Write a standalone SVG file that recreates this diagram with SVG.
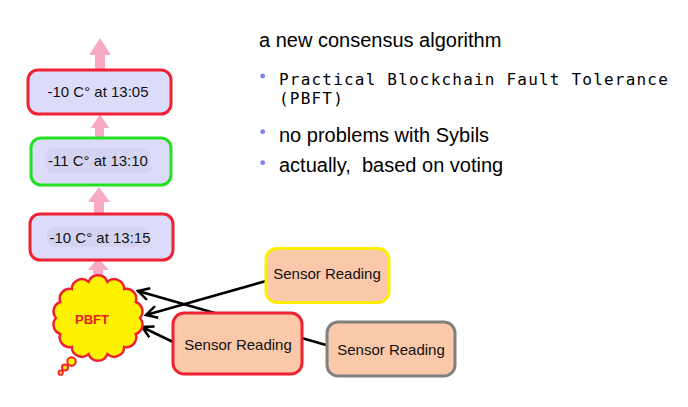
<svg xmlns="http://www.w3.org/2000/svg" width="688" height="407" viewBox="0 0 688 407">
  <style>
    .box { fill: #dcdcfa; stroke-width: 3; }
    .boxtxt { font-family: "Liberation Sans", Arial, sans-serif; font-size: 15px; fill: #111; text-anchor: middle; }
    .sensor { fill: #fbc9a9; stroke-width: 3; }
    .sensortxt { font-family: "Liberation Sans", Arial, sans-serif; font-size: 15px; fill: #111; text-anchor: middle; }
    .uparrow { fill: #f7a9c6; }
    .body { font-family: "Liberation Sans", Arial, sans-serif; font-size: 20px; fill: #000; }
    .mono { font-family: "DejaVu Sans Mono", "Liberation Mono", monospace; font-size: 16px; letter-spacing: 1.2px; fill: #000; }
    .bullet { fill: #8080ee; }
    .link { stroke: #000; stroke-width: 2.5; fill: none; marker-end: url(#open); }
  </style>
  <defs>
    <marker id="open" viewBox="0 0 14 14" refX="12" refY="7" markerWidth="14" markerHeight="14" markerUnits="userSpaceOnUse" orient="auto">
      <path d="M1,1 L12,7 L1,13" fill="none" stroke="#000" stroke-width="2.5"/>
    </marker>
  </defs>

  <rect width="688" height="407" fill="#fff"/>

  <!-- pink block-chain arrows -->
  <g id="chain-arrows">
    <path class="uparrow" d="M95,70 L95,55 L89,55 L100,38 L111,55 L105,55 L105,70 Z"/>
    <path class="uparrow" d="M95,139 L95,128 L91,128 L100,114 L109,128 L104,128 L104,139 Z"/>
    <path class="uparrow" d="M94,215 L94,202 L88,202 L99,187 L110,202 L104,202 L104,215 Z"/>
    <path class="uparrow" d="M93,282 L93,270 L88,270 L98,258 L109,270 L103,270 L103,282 Z"/>
  </g>

  <!-- block 13:05 -->
  <g id="block-1305">
    <rect class="box" x="28" y="70" width="143" height="44" rx="10" stroke="#ee2233"/>
    <text class="boxtxt" x="98" y="97">-10 C° at 13:05</text>
  </g>

  <!-- block 13:10 -->
  <g id="block-1310">
    <rect class="box" x="31" y="138" width="140" height="47" rx="10" stroke="#22e022"/>
    <rect x="46" y="148" width="105" height="26" rx="8" fill="#d4d4f2"/>
    <text class="boxtxt" x="98" y="166">-11 C° at 13:10</text>
  </g>

  <!-- block 13:15 -->
  <g id="block-1315">
    <rect class="box" x="30" y="214" width="143" height="46" rx="10" stroke="#ee2233"/>
    <rect x="47" y="227" width="103" height="20" rx="8" fill="#d4d4f2"/>
    <text class="boxtxt" x="100" y="243">-10 C° at 13:15</text>
  </g>

  <!-- connectors -->
  <g id="connectors">
    <line class="link" x1="326" y1="345" x2="138" y2="291"/>
    <line class="link" x1="266" y1="281" x2="146" y2="315"/>
    <line class="link" x1="173" y1="342" x2="142" y2="327"/>
  </g>

  <!-- PBFT thought cloud -->
  <g id="pbft">
    <path d="M140,318 A10,10 0 0 0 135.8,302 A10,10 0 0 0 124.2,289.1 A10,10 0 0 0 107.4,281.9 A10,10 0 0 0 88.6,281.9 A10,10 0 0 0 71.8,289.1 A10,10 0 0 0 60.2,302 A10,10 0 0 0 56,318 A10,10 0 0 0 60.2,334 A10,10 0 0 0 71.8,346.9 A10,10 0 0 0 88.6,354.1 A10,10 0 0 0 107.4,354.1 A10,10 0 0 0 124.2,346.9 A10,10 0 0 0 135.8,334 A10,10 0 0 0 140,318 Z" fill="#fff200" stroke="#ee2233" stroke-width="2.5"/>
    <circle cx="71.5" cy="361.5" r="4.2" fill="#fff200" stroke="#ee2233" stroke-width="2"/>
    <circle cx="65" cy="367.5" r="3" fill="#fff200" stroke="#ee2233" stroke-width="2"/>
    <circle cx="60.7" cy="372.7" r="2.2" fill="#fff200" stroke="#ee2233" stroke-width="1.8"/>
    <text x="92" y="324" font-family="Liberation Sans, Arial, sans-serif" font-size="13" font-weight="bold" fill="#e8202a" text-anchor="middle">PBFT</text>
  </g>

  <!-- sensor readings -->
  <g id="sensor-yellow">
    <rect class="sensor" x="266" y="248.5" width="123" height="54" rx="11" stroke="#ffee00"/>
    <text class="sensortxt" x="327" y="279">Sensor Reading</text>
  </g>
  <g id="sensor-red">
    <rect class="sensor" x="173" y="313" width="129" height="61" rx="11" stroke="#ee2233"/>
    <text class="sensortxt" x="238" y="350">Sensor Reading</text>
  </g>
  <g id="sensor-gray">
    <rect class="sensor" x="327" y="322" width="128" height="54" rx="11" stroke="#808080"/>
    <text class="sensortxt" x="391" y="355">Sensor Reading</text>
  </g>

  <!-- bullet text -->
  <g id="notes">
    <text class="body" x="259" y="47">a new consensus algorithm</text>
    <circle class="bullet" cx="262.7" cy="76" r="2.4"/>
    <text class="mono" x="279" y="84.5">Practical Blockchain Fault Tolerance</text>
    <text class="mono" x="279" y="103.5">(PBFT)</text>
    <circle class="bullet" cx="262.7" cy="131.7" r="2.4"/>
    <text class="body" x="279" y="142">no problems with Sybils</text>
    <circle class="bullet" cx="262.7" cy="162.7" r="2.4"/>
    <text class="body" x="279" y="172" xml:space="preserve">actually,  based on voting</text>
  </g>
</svg>
